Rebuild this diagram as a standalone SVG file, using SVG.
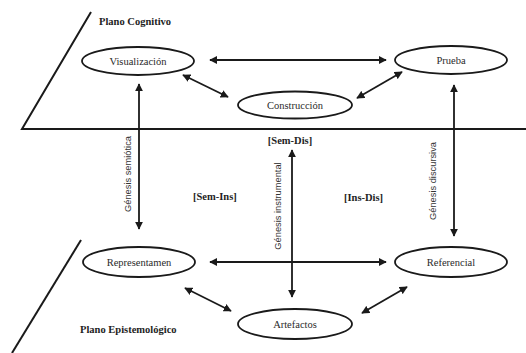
<svg xmlns="http://www.w3.org/2000/svg" width="526" height="353" viewBox="0 0 526 353">
  <defs>
    <marker id="head" viewBox="0 0 10 10" refX="9" refY="5" markerWidth="4.5" markerHeight="4.5" orient="auto-start-reverse" markerUnits="strokeWidth">
      <path d="M0,0 L10,5 L0,10 Z" fill="#1a1a1a"/>
    </marker>
    <style>
      .plane { stroke: #1a1a1a; stroke-width: 2; fill: none; }
      .node ellipse { fill: #fff; stroke: #1a1a1a; stroke-width: 1.8; }
      .node text { font-family: "Liberation Serif", "DejaVu Serif", serif; font-size: 10.5px; fill: #2a2a2a; text-anchor: middle; }
      .arrow { stroke: #1a1a1a; stroke-width: 1.8; fill: none; marker-start: url(#head); marker-end: url(#head); }
      .bold { font-family: "Liberation Serif", "DejaVu Serif", serif; font-size: 10.5px; font-weight: bold; fill: #1e1e1e; }
      .genesis { font-family: "Liberation Sans", "DejaVu Sans", sans-serif; font-size: 9.3px; fill: #333; text-anchor: middle; }
    </style>
  </defs>
  <rect width="526" height="353" fill="#fff"/>

  <!-- Planes -->
  <g id="planes">
    <path class="plane" d="M91,12 L22,129 L526,129"/>
    <path class="plane" d="M81,240 L12,353"/>
    <text class="bold" x="99" y="25">Plano Cognitivo</text>
    <text class="bold" x="80" y="333">Plano Epistemológico</text>
  </g>

  <!-- Connectors -->
  <g id="connectors">
    <line class="arrow" x1="210" y1="60" x2="386" y2="60"/>
    <line class="arrow" x1="183" y1="75" x2="228" y2="97"/>
    <line class="arrow" x1="357" y1="98" x2="402" y2="72"/>
    <line class="arrow" x1="139" y1="84" x2="139" y2="229"/>
    <line class="arrow" x1="454" y1="85" x2="454" y2="236"/>
    <line class="arrow" x1="292" y1="150" x2="292" y2="297"/>
    <line class="arrow" x1="210" y1="262" x2="386" y2="262"/>
    <line class="arrow" x1="185" y1="288" x2="231" y2="311"/>
    <line class="arrow" x1="362" y1="313" x2="407" y2="287"/>
    <text class="genesis" transform="translate(131,174) rotate(-90)">Génesis semiótica</text>
    <text class="genesis" transform="translate(281,206) rotate(-90)">Génesis instrumental</text>
    <text class="genesis" transform="translate(436,181) rotate(-90)">Génesis discursiva</text>
  </g>

  <!-- Pair labels -->
  <g id="pairs">
    <text class="bold" x="290" y="144" text-anchor="middle">[Sem-Dis]</text>
    <text class="bold" x="193" y="200">[Sem-Ins]</text>
    <text class="bold" x="344" y="201">[Ins-Dis]</text>
  </g>

  <!-- Nodes -->
  <g id="visualizacion" class="node">
    <ellipse cx="138" cy="61" rx="56" ry="14"/>
    <text x="138" y="64.5">Visualización</text>
  </g>
  <g id="prueba" class="node">
    <ellipse cx="451" cy="60" rx="56" ry="14"/>
    <text x="451" y="63.5">Prueba</text>
  </g>
  <g id="construccion" class="node">
    <ellipse cx="295" cy="105" rx="57" ry="13.5"/>
    <text x="295" y="108.5">Construcción</text>
  </g>
  <g id="representamen" class="node">
    <ellipse cx="139" cy="262" rx="56" ry="15"/>
    <text x="139" y="265.5">Representamen</text>
  </g>
  <g id="referencial" class="node">
    <ellipse cx="451" cy="262" rx="56" ry="15"/>
    <text x="451" y="265.5">Referencial</text>
  </g>
  <g id="artefactos" class="node">
    <ellipse cx="295" cy="324" rx="57" ry="15"/>
    <text x="295" y="327.5">Artefactos</text>
  </g>
</svg>
